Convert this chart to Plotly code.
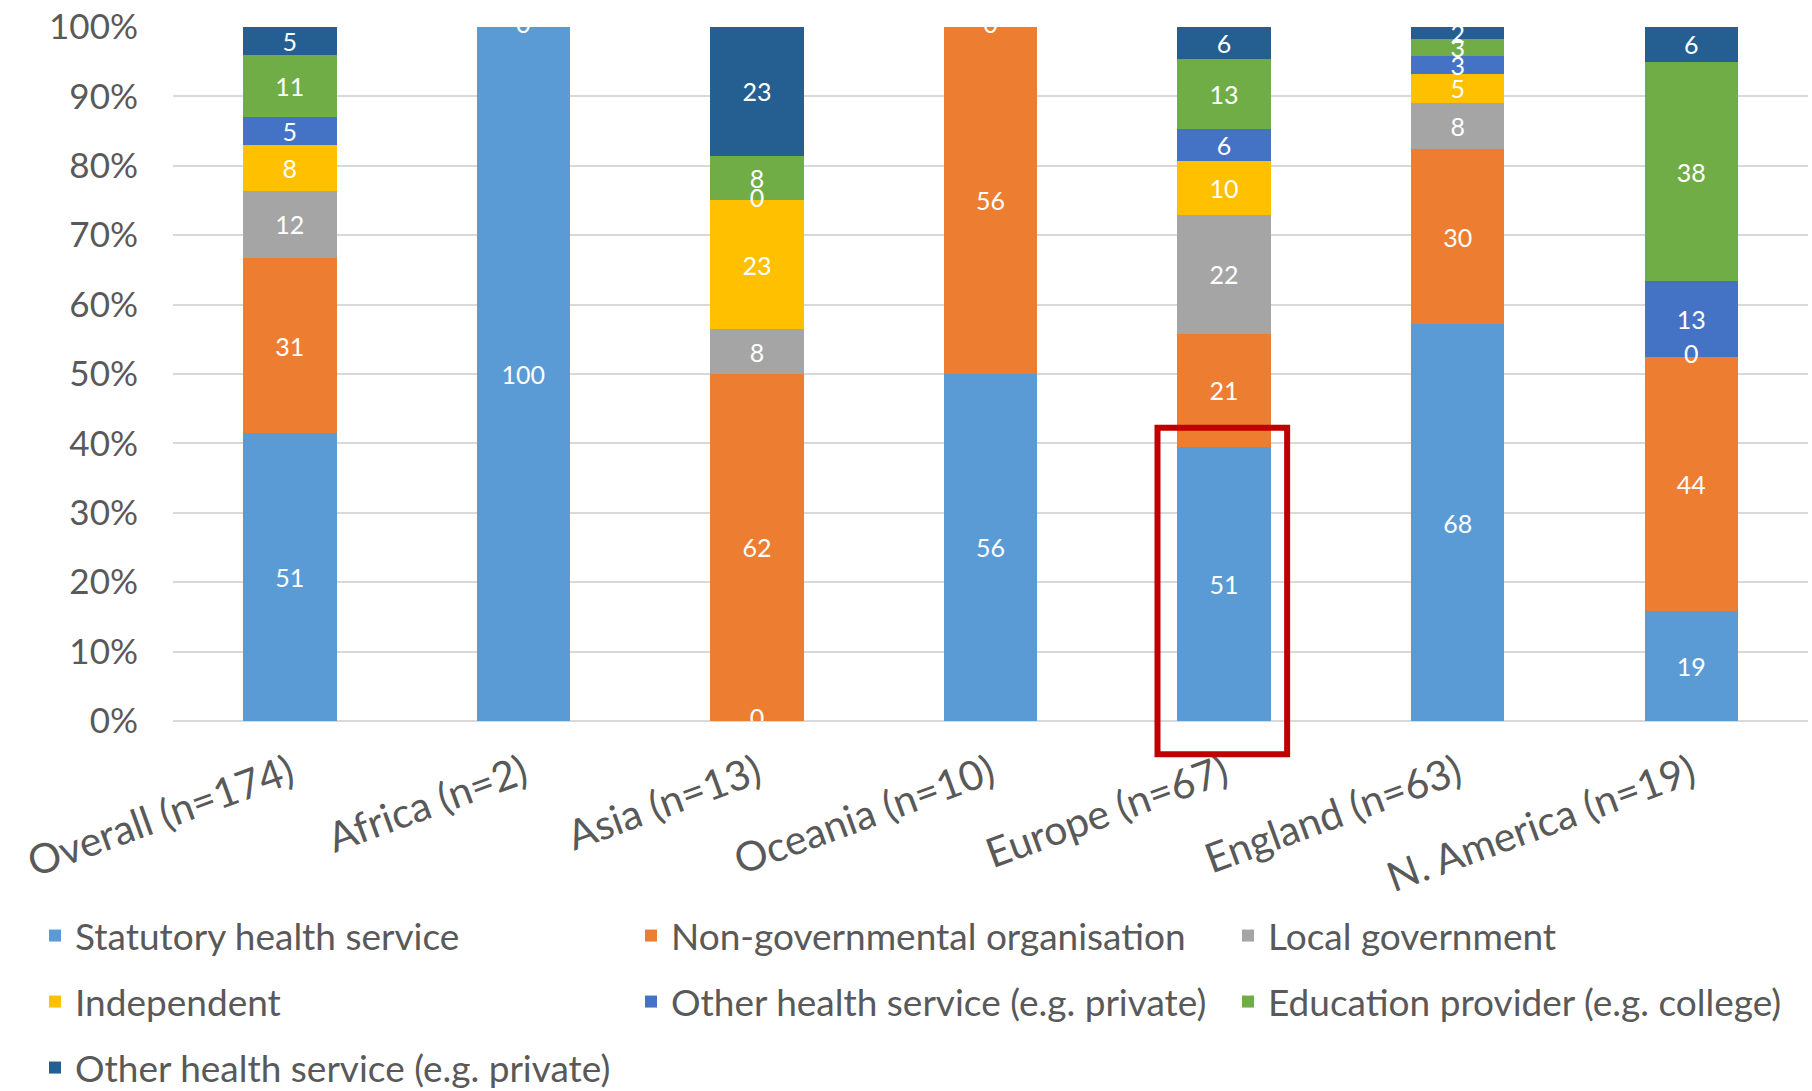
import plotly.graph_objects as go

# Regions / groups on the category axis
categories = [
    "Overall (n=174)", "Africa (n=2)", "Asia (n=13)", "Oceania (n=10)",
    "Europe (n=67)", "England (n=63)", "N. America (n=19)",
]

# Counts per provider type for each region (stacked and normalised to 100%)
statutory = [51, 100, 0, 56, 51, 68, 19]
ngo = [31, 0, 62, 56, 21, 30, 44]
local_gov = [12, 0, 8, 0, 22, 8, 0]
independent = [8, 0, 23, 0, 10, 5, 0]
other_health = [5, 0, 0, 0, 6, 3, 13]
education = [11, 0, 8, 0, 13, 3, 38]
other_health_2 = [5, 0, 23, 0, 6, 2, 6]

series_names = [
    "Statutory health service",
    "Non-governmental organisation",
    "Local government",
    "Independent",
    "Other health service (e.g. private)",
    "Education provider (e.g. college)",
    "Other health service (e.g. private)",
]
series_values = [statutory, ngo, local_gov, independent, other_health, education, other_health_2]
series_colors = ["#5B9BD5", "#ED7D31", "#A5A5A5", "#FFC000", "#4472C4", "#70AD47", "#255E91"]

FONT = "Lato, 'Open Sans', sans-serif"
GREY = "#595959"
W, H = 1812, 1091

# Legend grid: three columns, three rows below the plot (pixel positions)
legend_cols_px = [35, 631, 1228]
legend_rows_px = [936, 1002, 1068]

fig = go.Figure()
legend_layouts = {}
for i, (name, vals, col) in enumerate(zip(series_names, series_values, series_colors)):
    key = "legend" if i == 0 else f"legend{i + 1}"
    r, c = divmod(i, 3)
    legend_layouts[key] = dict(
        orientation="h", xref="container", yref="container",
        x=legend_cols_px[c] / W, y=1 - legend_rows_px[r] / H,
        xanchor="left", yanchor="middle",
        font=dict(size=37, color=GREY, family=FONT),
        bgcolor="rgba(0,0,0,0)", borderwidth=0,
    )
    fig.add_trace(go.Bar(
        x=categories, y=vals, name=name, legend=key,
        marker=dict(color=col, line=dict(width=0)),
        text=[str(v) for v in vals],
        textposition="inside", insidetextanchor="middle", textangle=0,
        textfont=dict(color="white", size=25, family=FONT),
    ))

# Zero-valued segments still carry a "0" label at their stacking position
zx, zy = [], []
for ci, cat in enumerate(categories):
    total = sum(s[ci] for s in series_values)
    cum = 0
    seen = set()
    for s in series_values:
        v = s[ci]
        if v == 0:
            pos = round(100.0 * cum / total, 6)
            if pos not in seen:
                seen.add(pos)
                zx.append(cat)
                zy.append(pos)
        cum += v
fig.add_trace(go.Scatter(
    x=zx, y=zy, mode="text", text=["0"] * len(zx), textposition="middle center",
    textfont=dict(color="white", size=25, family=FONT),
    cliponaxis=True, showlegend=False, hoverinfo="skip",
))

fig.update_layout(
    barmode="stack", barnorm="percent", bargap=0.6,
    width=W, height=H,
    margin=dict(l=173, r=4, t=24, b=369),
    plot_bgcolor="white", paper_bgcolor="white",
    font=dict(family=FONT, color=GREY),
    uniformtext=dict(minsize=25, mode="show"),
    shapes=[dict(
        type="rect", xref="x", yref="paper",
        x0=3.715, x1=4.27, y0=-0.048, y1=0.4225,
        line=dict(color="#C00000", width=6), fillcolor="rgba(0,0,0,0)",
    )],
    **legend_layouts,
)

fig.update_yaxes(
    range=[0, 100], dtick=10, ticksuffix="%",
    showgrid=True, gridcolor="#D9D9D9", gridwidth=2,
    zeroline=True, zerolinecolor="#D9D9D9", zerolinewidth=2,
    showline=False, ticks="", ticklabelstandoff=34,
    tickfont=dict(size=35, color=GREY, family=FONT),
)
fig.update_xaxes(
    tickangle=-20, showline=False, ticks="", showgrid=False,
    ticklabelstandoff=20,
    tickfont=dict(size=41, color=GREY, family=FONT),
)

fig.write_html("out.html")
